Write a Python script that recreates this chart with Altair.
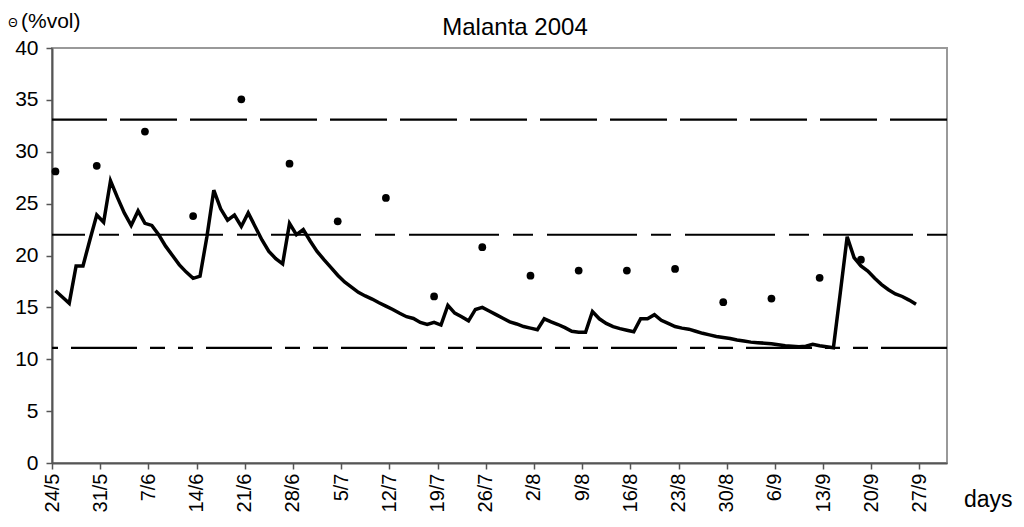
import json
import altair as alt
import pandas as pd

# ---------------- data ----------------
tick_labels = ["24/5", "31/5", "7/6", "14/6", "21/6", "28/6", "5/7", "12/7", "19/7",
               "26/7", "2/8", "9/8", "16/8", "23/8", "30/8", "6/9", "13/9", "20/9", "27/9"]

# simulated soil moisture, one value per day starting 24/5
line_values = [
    16.6, 16.0, 15.4, 19.0, 19.0, 21.5, 23.9, 23.2, 27.2, 25.6,
    24.1, 22.9, 24.3, 23.1, 22.9, 22.0, 20.9, 20.0, 19.1, 18.4,
    17.8, 18.0, 21.8, 26.3, 24.5, 23.4, 23.9, 22.8, 24.1, 22.8,
    21.5, 20.4, 19.7, 19.2, 23.1, 22.0, 22.5, 21.4, 20.4, 19.6,
    18.85, 18.1, 17.45, 16.95, 16.45, 16.1, 15.8, 15.45, 15.12, 14.8,
    14.43, 14.1, 13.93, 13.55, 13.35, 13.55, 13.3, 15.2, 14.45, 14.1,
    13.7, 14.8, 15.0, 14.65, 14.3, 13.95, 13.6, 13.4, 13.15, 13.0,
    12.85, 13.9, 13.6, 13.35, 13.05, 12.7, 12.6, 12.6, 14.6, 13.9,
    13.45, 13.15, 12.95, 12.8, 12.65, 13.9, 13.9, 14.3, 13.75, 13.45,
    13.15, 13.0, 12.9, 12.7, 12.5, 12.35, 12.2, 12.1, 12.0, 11.85,
    11.75, 11.65, 11.6, 11.55, 11.5, 11.4, 11.3, 11.25, 11.2, 11.25,
    11.45, 11.3, 11.2, 11.1, 16.4, 21.8, 19.8, 19.0, 18.5, 17.8,
    17.2, 16.7, 16.3, 16.05, 15.7, 15.3,
]

# measured values (day index from 24/5)
point_days = [0, 6, 13, 20, 27, 34, 41, 48, 55, 62, 69, 76, 83, 90, 97, 104, 111, 117]
point_values = [28.1, 28.65, 31.95, 23.8, 35.05, 28.85, 23.3, 25.55, 16.05, 20.8,
                18.05, 18.55, 18.55, 18.7, 15.5, 15.85, 17.85, 19.6]

# horizontal reference levels
threshold_values = [33.1, 22.0, 11.1]
threshold_dashes = [[57, 13], [20, 14, 90, 14], [66, 13, 15, 13, 15, 13]]

FONT = "Liberation Sans"

line_df = pd.DataFrame({"day": list(range(len(line_values))), "theta": line_values})
pt_df = pd.DataFrame({"day": point_days, "theta": point_values})

x_scale = alt.Scale(domain=[0, 130], nice=False, zero=False)
y_scale = alt.Scale(domain=[0, 40], nice=False)

label_expr = json.dumps(tick_labels) + "[round(datum.value / 7)]"

x_axis = alt.Axis(
    values=list(range(0, 127, 7)), labelExpr=label_expr, labelAngle=-90,
    labelFontSize=20, labelFont=FONT, labelColor="black", labelPadding=4,
    tickSize=6, tickColor="#555555", tickWidth=1.5, domainColor="#555555",
    domainWidth=2, grid=False, title=None, labelOverlap=False,
)
y_axis = alt.Axis(
    values=list(range(0, 41, 5)), labelFontSize=21, labelFont=FONT,
    labelColor="black", labelPadding=8, tickSize=6, tickColor="#555555",
    tickWidth=1.5, domainColor="#555555", domainWidth=2, grid=False, title=None,
)

line = alt.Chart(line_df).transform_calculate(xpos="datum.day + 0.5").mark_line(
    color="black", strokeWidth=3.5, strokeJoin="miter"
).encode(
    x=alt.X("xpos:Q", scale=x_scale, axis=x_axis),
    y=alt.Y("theta:Q", scale=y_scale, axis=y_axis),
)

points = alt.Chart(pt_df).transform_calculate(xpos="datum.day + 0.5").mark_circle(
    color="black", size=60, opacity=1
).encode(
    x=alt.X("xpos:Q", scale=x_scale, axis=x_axis),
    y=alt.Y("theta:Q", scale=y_scale, axis=y_axis),
)

rules = []
for v, d in zip(threshold_values, threshold_dashes):
    rules.append(
        alt.Chart(pd.DataFrame({"level": [v]})).mark_rule(
            color="black", strokeWidth=2.2, strokeDash=d
        ).encode(y=alt.Y("level:Q", scale=y_scale, axis=y_axis))
    )

title = alt.Chart(pd.DataFrame({"t": ["Malanta 2004"]})).mark_text(
    font=FONT, fontSize=24, color="black", align="center", baseline="alphabetic"
).encode(text="t:N", x=alt.value(463), y=alt.value(-13))

unit = alt.Chart(pd.DataFrame({"t": ["(%vol)"]})).mark_text(
    font=FONT, fontSize=21, color="black", align="left", baseline="alphabetic"
).encode(text="t:N", x=alt.value(-31), y=alt.value(-20))

theta = alt.Chart(pd.DataFrame({"t": ["Θ"]})).mark_text(
    font=FONT, fontSize=12, color="black", align="center", baseline="alphabetic"
).encode(text="t:N", x=alt.value(-39), y=alt.value(-21))

days = alt.Chart(pd.DataFrame({"t": ["days"]})).mark_text(
    font=FONT, fontSize=23, color="black", align="left", baseline="alphabetic"
).encode(text="t:N", x=alt.value(912), y=alt.value(459))

chart = alt.layer(*rules, line, points, title, unit, theta, days).properties(
    width=895, height=415,
    autosize=alt.AutoSizeParams(type="none"),
    padding={"left": 44, "top": 40, "right": 69, "bottom": 50},
    background="white",
).configure_view(stroke="#999999", strokeWidth=2)

chart.save("out.html", embed_options={"renderer": "svg", "actions": False})
